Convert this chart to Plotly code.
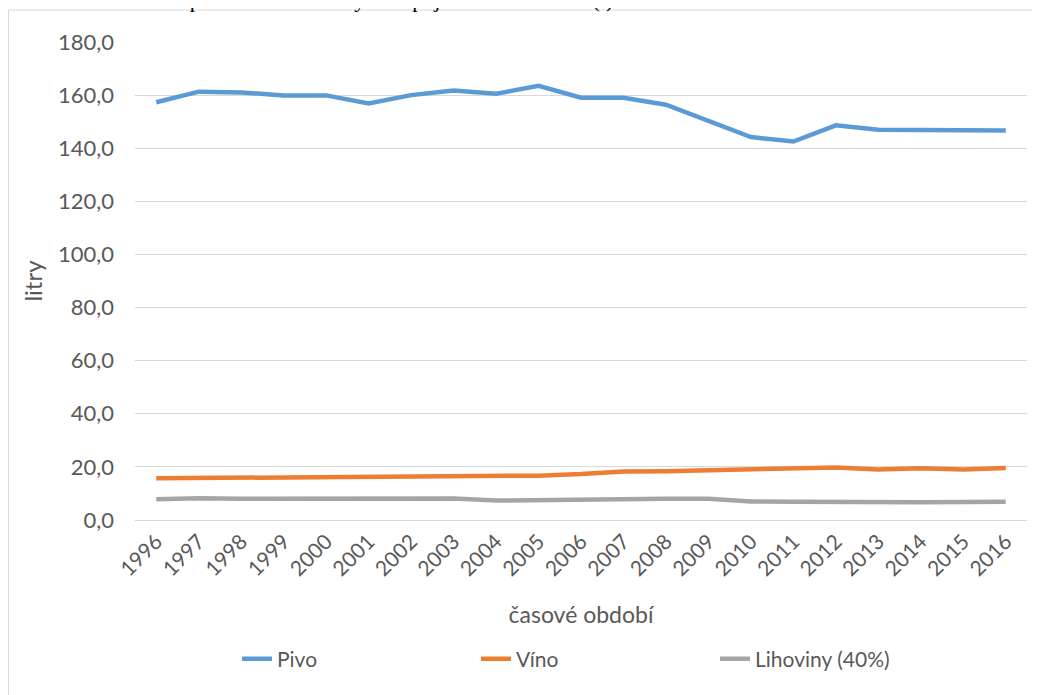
import plotly.graph_objects as go

years = [str(y) for y in range(1996, 2017)]
pivo = [157.3, 161.3, 161.0, 159.9, 159.9, 156.9, 160.0, 161.7, 160.5, 163.5,
        159.0, 159.0, 156.4, 150.4, 144.2, 142.5, 148.6, 147.0, 147.0, 146.6, 146.7]
vino = [15.7, 15.8, 16.0, 16.0, 16.0, 16.1, 16.1, 16.2, 16.4, 16.7,
        17.3, 18.3, 18.4, 18.7, 19.3, 19.4, 19.8, 19.0, 19.5, 19.0, 19.6]
lihoviny = [7.8, 8.2, 8.0, 8.1, 8.1, 8.0, 8.1, 8.1, 7.3, 7.5,
            7.8, 8.1, 8.0, 8.0, 7.0, 6.9, 6.8, 6.5, 6.7, 6.8, 6.9]
series_names = ["Pivo", "Víno", "Lihoviny (40%)"]
series_colors = ["#5B9BD5", "#ED7D31", "#A5A5A5"]
y_ticks = [0, 20, 40, 60, 80, 100, 120, 140, 160, 180]

font_family = "Lato, 'Open Sans', sans-serif"

fig = go.Figure()
for name, vals, col in zip(series_names, [pivo, vino, lihoviny], series_colors):
    fig.add_trace(go.Scatter(x=years, y=vals, name=name, mode="lines",
                             line=dict(color=col, width=4.5)))

# page has an 8px body margin; figure coordinates = page coordinates - 8
OFF = 8
W, H = 1040 - OFF, 695 - OFF
L, R, T, B = 127, 13, 34, 175
pw, ph = W - L - R, H - T - B

def px(x):
    return (x - OFF - L) / pw

def py(y):
    return (H - B - (y - OFF)) / ph

fig.update_layout(
    width=W, height=H,
    margin=dict(l=L, r=R, t=T, b=B, pad=0),
    paper_bgcolor="white", plot_bgcolor="white",
    separators=", ",
    font=dict(family=font_family, color="#595959", size=20),
    showlegend=True,
    legend=dict(orientation="h", x=px(237), xanchor="left",
                y=py(659), yanchor="middle",
                font=dict(size=21, color="#595959"),
                entrywidth=194, entrywidthmode="pixels",
                itemwidth=30, bgcolor="rgba(0,0,0,0)"),
    xaxis=dict(type="category", range=[-0.5, 20.5], showgrid=False,
               showline=True, linecolor="#D9D9D9", linewidth=1,
               ticks="", tickangle=-45, tickfont=dict(size=21, color="#595959"),
               title=dict(text="časové období", font=dict(size=23, color="#595959"),
                          standoff=27)),
    yaxis=dict(range=[0, 180], tickvals=y_ticks, tickformat=".1f",
               showgrid=True, gridcolor="#D9D9D9", gridwidth=1,
               zeroline=False, showline=False, ticks="",
               tickfont=dict(size=22, color="#595959"),
               ticklabelstandoff=20,
               title=dict(text="litry", font=dict(size=24, color="#595959"),
                          standoff=8)),
    shapes=[dict(type="rect", xref="paper", yref="paper",
                 x0=px(8.5), x1=px(1100), y0=py(760), y1=py(10),
                 line=dict(color="#D9D9D9", width=1), layer="below")],
    annotations=[dict(text="Obrázek 33: Spotřeba alkoholických nápojů v ČR na osobu (l)",
                      xref="paper", yref="paper", x=px(62), y=py(14),
                      xanchor="left", yanchor="bottom", showarrow=False,
                      font=dict(family="'Liberation Serif', 'Times New Roman', serif",
                                size=22, color="black"))],
)

fig.write_html("out.html")
